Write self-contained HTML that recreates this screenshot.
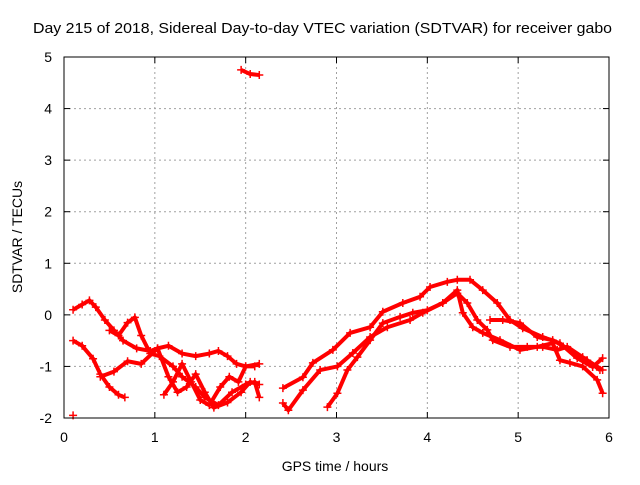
<!DOCTYPE html>
<html><head><meta charset="utf-8"><style>
body{margin:0;background:#fff;}
svg text{font-family:"Liberation Sans",sans-serif;font-size:14px;fill:#000;}
</style></head><body>
<svg id="chart" width="640" height="480">
<text x="33" y="33" textLength="579" lengthAdjust="spacingAndGlyphs" style="font-size:15px">Day 215 of 2018, Sidereal Day-to-day VTEC variation (SDTVAR) for receiver gabo</text>
<text x="335" y="471" text-anchor="middle">GPS time / hours</text>
<text x="22" y="237" text-anchor="middle" transform="rotate(-90 22 237)">SDTVAR / TECUs</text>
<g id="grid"></g><g id="marks"></g>
<rect x="64" y="57" width="545" height="361" fill="none" stroke="#000" stroke-width="1"/>
</svg>
<script>
const xTicks=[0,1,2,3,4,5,6];
const yTicks=[-2,-1,0,1,2,3,4,5];
const t1h=[0.1,0.2,0.28,0.35,0.45,0.55,0.65,0.8,0.95,1.03,1.15,1.3,1.45,1.6,1.7,1.8,1.9,2.0,2.15];
const t1v=[0.1,0.2,0.28,0.15,-0.1,-0.3,-0.5,-0.65,-0.7,-0.65,-0.6,-0.75,-0.8,-0.75,-0.7,-0.8,-0.95,-1.0,-0.95];
const t2h=[0.1,0.2,0.32,0.4,0.5,0.6,0.67];
const t2v=[-0.5,-0.6,-0.85,-1.15,-1.4,-1.55,-1.6];
const t3h=[0.4,0.55,0.7,0.85,1.0,1.03,1.15,1.25,1.35,1.45,1.55,1.65,1.8,1.95,2.05,2.15];
const t3v=[-1.2,-1.1,-0.9,-0.95,-0.7,-0.65,-1.2,-1.5,-1.4,-1.15,-1.5,-1.8,-1.7,-1.5,-1.3,-1.35];
const t4h=[0.5,0.6,0.7,0.78,0.85,0.95,1.05,1.2,1.3,1.45,1.55,1.7,1.85,2.0,2.1,2.15];
const t4v=[-0.3,-0.4,-0.15,-0.05,-0.4,-0.75,-0.8,-1.0,-1.2,-1.4,-1.6,-1.75,-1.5,-1.35,-1.3,-1.6];
const t5h=[1.1,1.2,1.3,1.4,1.5,1.6,1.72,1.82,1.92,2.0,2.1];
const t5v=[-1.55,-1.3,-0.95,-1.3,-1.65,-1.75,-1.4,-1.2,-1.3,-1.0,-1.0];
const t6h=[1.95,2.05,2.15];
const t6v=[4.75,4.67,4.65];
const t7h=[0.1];
const t7v=[-1.95];
const r1h=[2.41,2.63,2.74,2.96,3.15,3.37,3.51,3.73,3.92,4.03,4.22,4.33,4.47,4.61,4.77,4.91,5.05,5.27,5.46,5.65,5.82,5.93];
const r1v=[-1.42,-1.21,-0.93,-0.68,-0.35,-0.24,0.06,0.23,0.35,0.54,0.64,0.68,0.68,0.48,0.23,-0.1,-0.26,-0.43,-0.55,-0.84,-1.01,-0.84];
const r2h=[2.41,2.47,2.63,2.82,3.01,3.18,3.37,3.56,3.81,3.95,4.17,4.33,4.44,4.55,4.66,4.72,4.91,5.1,5.27,5.43,5.54,5.71,5.9];
const r2v=[-1.71,-1.85,-1.46,-1.07,-1.0,-0.74,-0.43,-0.24,-0.1,0.04,0.23,0.42,0.23,-0.1,-0.29,-0.49,-0.62,-0.62,-0.62,-0.68,-0.62,-0.82,-1.07];
const r3h=[2.9,3.01,3.12,3.23,3.37,3.51,3.7,3.84,4.0,4.17,4.33,4.39,4.5,4.61,4.8,5.02,5.21,5.38,5.46,5.57,5.71,5.87,5.93];
const r3v=[-1.79,-1.52,-1.07,-0.82,-0.49,-0.16,-0.04,0.04,0.09,0.23,0.48,0.04,-0.24,-0.35,-0.49,-0.68,-0.62,-0.55,-0.88,-0.93,-1.0,-1.26,-1.52];
const r4h=[4.69,4.83,5.02,5.21,5.38,5.57,5.76,5.93];
const r4v=[-0.1,-0.1,-0.16,-0.43,-0.49,-0.68,-0.88,-1.07];
const seriesH=[t1h,t2h,t3h,t4h,t5h,t6h,t7h,r1h,r2h,r3h,r4h];
const seriesV=[t1v,t2v,t3v,t4v,t5v,t6v,t7v,r1v,r2v,r3v,r4v];

const NS='http://www.w3.org/2000/svg';
const X0=64,X1=609,Y0=418,Y1=57;
const xs=h=>X0+(h-0)/(6-0)*(X1-X0);
const ys=v=>Y0-(v+2)/(5+2)*(Y0-Y1);
function mk(tag,attrs,parent){const e=document.createElementNS(NS,tag);for(const k in attrs)e.setAttribute(k,attrs[k]);parent.appendChild(e);return e;}
const grid=document.getElementById('grid'),marks=document.getElementById('marks');
xTicks.forEach(t=>{const x=xs(t);
 if(t>0&&t<6){const g=mk('line',{x1:x,x2:x,y1:Y1,y2:Y0,stroke:'#a0a0a0','stroke-dasharray':'2,3'},grid);
 
 }
 mk('line',{x1:x,x2:x,y1:Y0,y2:Y0-6,stroke:'#000'},grid);
 mk('line',{x1:x,x2:x,y1:Y1,y2:Y1+6,stroke:'#000'},grid);
 const l=mk('text',{x:x,y:442,'text-anchor':'middle'},grid);l.textContent=t;
 
 });
yTicks.forEach(t=>{const y=ys(t);
 if(t>-2&&t<5){const g=mk('line',{x1:X0,x2:X1,y1:y,y2:y,stroke:'#a0a0a0','stroke-dasharray':'2,3'},grid);
 
 }
 mk('line',{x1:X0,x2:X0+6,y1:y,y2:y,stroke:'#000'},grid);
 mk('line',{x1:X1,x2:X1-6,y1:y,y2:y,stroke:'#000'},grid);
 const l=mk('text',{x:52,y:y+5,'text-anchor':'end'},grid);l.textContent=t;
 
 });
seriesH.forEach((hs,i)=>{const vs=seriesV[i];
 const g=mk('g',{},marks);
 
 
 if(hs.length>1){const pts=hs.map((h,j)=>xs(h)+','+ys(vs[j])).join(' ');
  mk('polyline',{points:pts,fill:'none',stroke:'#f00','stroke-width':4,'stroke-linejoin':'round'},g);}
 hs.forEach((h,j)=>{const x=xs(h),y=ys(vs[j]);
  const p=mk('path',{d:`M${x-4},${y}H${x+4}M${x},${y-4}V${y+4}`,stroke:'#f00','stroke-width':1.5},g);
  
  });});
</script>
</body></html>
